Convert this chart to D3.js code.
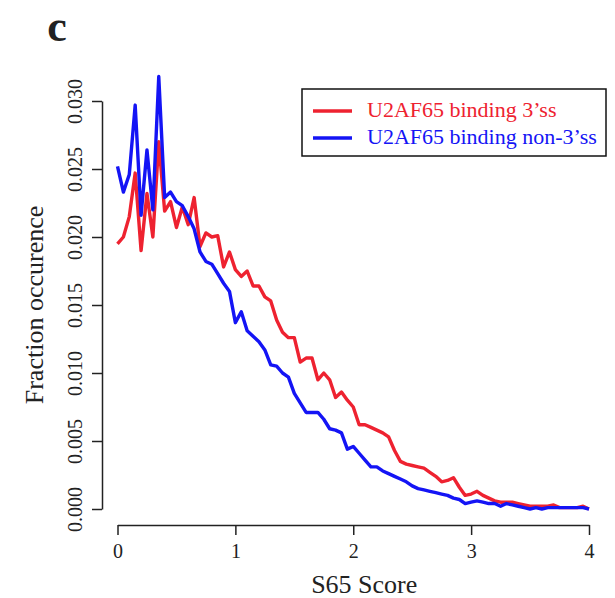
<!DOCTYPE html>
<html>
<head>
<meta charset="utf-8">
<script src="https://cdn.jsdelivr.net/npm/d3@7"></script>
<style>
  body { margin: 0; background: #fff; }
  svg text { font-family: "Liberation Serif", "Times New Roman", serif; }
</style>
</head>
<body>
<div id="chart"></div>
<script>
// S65 score bins, step 0.05 from 0 to 4
const scores = d3.range(0, 81).map(i => i * 0.05);

// fraction occurence, U2AF65 binding 3'ss (red)
const bind3ss = [
  0.0195, 0.0200, 0.0215, 0.0247, 0.0190, 0.0232, 0.0200, 0.0270, 0.0219, 0.0226,
  0.0207, 0.0222, 0.0209, 0.0229, 0.0193, 0.0203, 0.0200, 0.0201, 0.0178, 0.0189,
  0.0176, 0.0171, 0.0175, 0.0164, 0.0164, 0.0156, 0.0153, 0.0139, 0.0130, 0.0126,
  0.0126, 0.0108, 0.0111, 0.0111, 0.0095, 0.0100, 0.0095, 0.0082, 0.0086, 0.0080,
  0.0075, 0.0062, 0.0062, 0.0060, 0.0058, 0.0056, 0.0053, 0.0043, 0.0035, 0.0033,
  0.0032, 0.0031, 0.0030, 0.0027, 0.0024, 0.0020, 0.0021, 0.0023, 0.0016, 0.0010,
  0.0011, 0.0013, 0.0010, 0.0008, 0.0006, 0.0005, 0.0005, 0.0005, 0.0004, 0.0003,
  0.0002, 0.0002, 0.0002, 0.0002, 0.0003, 0.0001, 0.0001, 0.0001, 0.0001, 0.0002,
  0.0000
];

// fraction occurence, U2AF65 binding non-3'ss (blue)
const bindNon3ss = [
  0.0252, 0.0233, 0.0246, 0.0297, 0.0216, 0.0264, 0.0220, 0.0318, 0.0229, 0.0233,
  0.0226, 0.0223, 0.0215, 0.0206, 0.0189, 0.0182, 0.0180, 0.0173, 0.0166, 0.0160,
  0.0137, 0.0145, 0.0131, 0.0127, 0.0123, 0.0117, 0.0106, 0.0105, 0.0100, 0.0097,
  0.0085, 0.0078, 0.0071, 0.0071, 0.0071, 0.0066, 0.0059, 0.0058, 0.0056, 0.0044,
  0.0046, 0.0041, 0.0036, 0.0031, 0.0031, 0.0028, 0.0026, 0.0024, 0.0022, 0.0020,
  0.0017, 0.0015, 0.0014, 0.0013, 0.0012, 0.0011, 0.0010, 0.0008, 0.0007, 0.0004,
  0.0005, 0.0006, 0.0005, 0.0004, 0.0004, 0.0002, 0.0004, 0.0003, 0.0002, 0.0001,
  0.0000, 0.0001, 0.0000, 0.0001, 0.0001, 0.0001, 0.0001, 0.0001, 0.0001, 0.0001,
  0.0000
];

const xTicks = [0, 1, 2, 3, 4];
const yTicks = [0, 0.005, 0.010, 0.015, 0.020, 0.025, 0.030];

const seriesNames = ["U2AF65 binding 3\u2019ss", "U2AF65 binding non-3\u2019ss"];
const seriesColors = ["#ee2230", "#1414f5"];

const width = 615, height = 598;
const serif = "'Liberation Serif', 'Times New Roman', serif";
const ink = "#222";

const svg = d3.select("#chart").append("svg")
  .attr("width", width)
  .attr("height", height);

const x = d3.scaleLinear().domain([0, 4]).range([117.5, 589]);
const y = d3.scaleLinear().domain([0, 0.03]).range([509, 101]);

// panel letter
svg.append("text")
  .attr("x", 57).attr("y", 41)
  .attr("text-anchor", "middle")
  .style("font-size", "44px")
  .style("font-weight", "bold")
  .style("fill", ink)
  .text("c");

// x axis, detached below the plot like base R
const xAxis = svg.append("g")
  .attr("transform", "translate(0,525)")
  .call(d3.axisBottom(x).tickValues(xTicks).tickSize(10).tickSizeOuter(0).tickPadding(9)
    .tickFormat(d3.format("d")));

// y axis
const yAxis = svg.append("g")
  .attr("transform", "translate(102,0)")
  .call(d3.axisLeft(y).tickValues(yTicks).tickSize(10).tickSizeOuter(0)
    .tickFormat(d3.format(".3f")));

[xAxis, yAxis].forEach(g => {
  g.attr("font-family", serif);
  g.selectAll("path, line").attr("stroke", ink).attr("stroke-width", 1.5);
  g.selectAll("text").style("font-size", "20px").style("fill", ink)
    .style("font-family", serif);
});

// y tick labels parallel to the axis
yAxis.selectAll(".tick text")
  .attr("x", null).attr("dy", null)
  .attr("text-anchor", "middle")
  .attr("transform", "translate(-20,0) rotate(-90)");

// axis titles
svg.append("text")
  .attr("x", x(2) + 11).attr("y", 593)
  .attr("text-anchor", "middle")
  .style("font-size", "26px").style("fill", ink)
  .text("S65 Score");

svg.append("text")
  .attr("transform", `translate(43,${y(0.015)}) rotate(-90)`)
  .attr("text-anchor", "middle")
  .style("font-size", "26px").style("fill", ink)
  .text("Fraction occurence");

// lines
const line = d3.line()
  .x((d, i) => x(scores[i]))
  .y(d => y(d));

[bind3ss, bindNon3ss].forEach((s, k) => {
  svg.append("path")
    .datum(s)
    .attr("fill", "none")
    .attr("stroke", seriesColors[k])
    .attr("stroke-width", 3.4)
    .attr("stroke-linejoin", "round")
    .attr("d", line);
});

// legend
const legend = svg.append("g");
legend.append("rect")
  .attr("x", 302).attr("y", 89)
  .attr("width", 304).attr("height", 67)
  .attr("fill", "#fff")
  .attr("stroke", "#111").attr("stroke-width", 1.5);

seriesNames.forEach((name, k) => {
  const ly = 111 + k * 27;
  legend.append("line")
    .attr("x1", 313).attr("x2", 352)
    .attr("y1", ly).attr("y2", ly)
    .attr("stroke", seriesColors[k]).attr("stroke-width", 3.4);
  legend.append("text")
    .attr("x", 367).attr("y", ly + 6)
    .style("font-size", "22px")
    .style("fill", seriesColors[k])
    .text(name);
});
</script>
</body>
</html>
